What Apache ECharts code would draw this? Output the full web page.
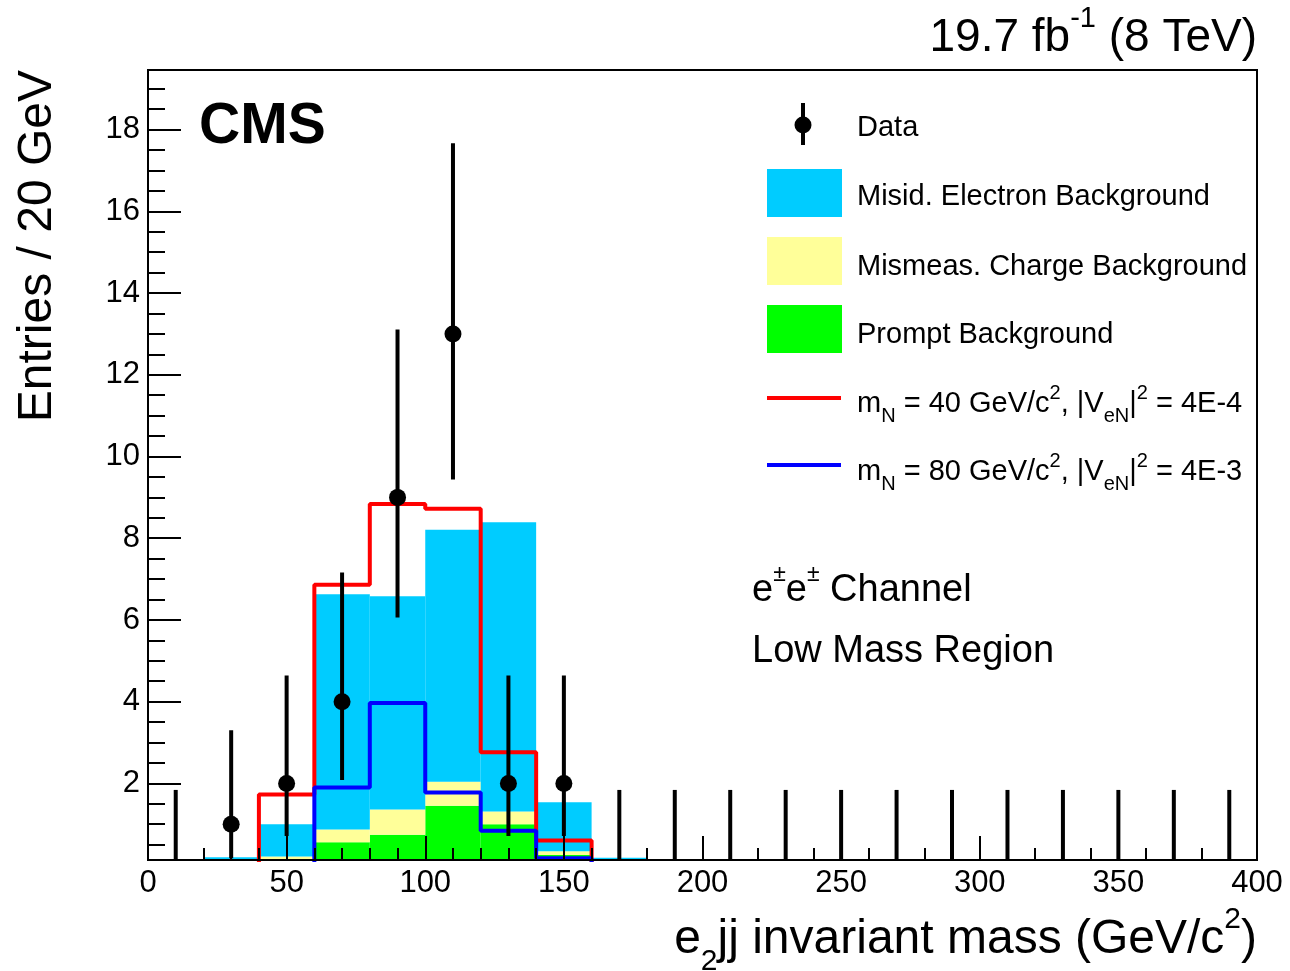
<!DOCTYPE html>
<html>
<head>
<meta charset="utf-8">
<script src="https://cdn.jsdelivr.net/npm/echarts@6.0.0/dist/echarts.min.js"></script>
<style>
  html, body { margin: 0; padding: 0; background: #fff; }
  #main { width: 1290px; height: 971px; }
</style>
</head>
<body>
<div id="main"></div>
<script>
// bins of 20 GeV, 0 - 400
var binEdges = [0, 20, 40, 60, 80, 100, 120, 140, 160, 180, 200, 220, 240, 260, 280, 300, 320, 340, 360, 380];
var binWidth = 20;

// backgrounds (stack increments, bottom to top)
var promptBkg  = [0, 0, 0.10, 0.56, 0.74, 1.45, 1.00, 0.25, 0, 0, 0, 0, 0, 0, 0, 0, 0, 0, 0, 0];
var mismeasBkg = [0, 0, 0.11, 0.31, 0.62, 0.59, 0.31, 0.09, 0, 0, 0, 0, 0, 0, 0, 0, 0, 0, 0, 0];
var misidBkg   = [0, 0.19, 0.79, 5.76, 5.22, 6.17, 7.08, 1.20, 0.18, 0, 0, 0, 0, 0, 0, 0, 0, 0, 0, 0];

// signals
var signal40 = [0, 0, 1.73, 6.86, 8.84, 8.72, 2.76, 0.60, 0, 0, 0, 0, 0, 0, 0, 0, 0, 0, 0, 0];
var signal80 = [0, 0, 0, 1.90, 3.97, 1.78, 0.84, 0.17, 0, 0, 0, 0, 0, 0, 0, 0, 0, 0, 0, 0];

// data with asymmetric errors
var dataCounts = [0, 1, 2, 4, 9, 13, 2, 2, 0, 0, 0, 0, 0, 0, 0, 0, 0, 0, 0, 0];
var dataLow    = [0, 0.17, 0.71, 2.08, 6.06, 9.44, 0.71, 0.71, 0, 0, 0, 0, 0, 0, 0, 0, 0, 0, 0, 0];
var dataHigh   = [1.84, 3.30, 4.64, 7.16, 13.11, 17.67, 4.64, 4.64, 1.84, 1.84, 1.84, 1.84, 1.84, 1.84, 1.84, 1.84, 1.84, 1.84, 1.84, 1.84];

var yMajorTicks = [2, 4, 6, 8, 10, 12, 14, 16, 18];
var yMinorTicks = [0.5, 1, 1.5, 2.5, 3, 3.5, 4.5, 5, 5.5, 6.5, 7, 7.5, 8.5, 9, 9.5, 10.5, 11, 11.5,
                   12.5, 13, 13.5, 14.5, 15, 15.5, 16.5, 17, 17.5, 18.5, 19];

var Y_MIN = 0.125, Y_MAX = 19.46;
var FONT = "'Liberation Sans', Arial, Helvetica, sans-serif";

var chart = echarts.init(document.getElementById('main'));

// stacked rectangles [lo, hi, base, top]
function stackRects(layers, idx) {
  var out = [];
  binEdges.forEach(function (x, i) {
    var base = 0;
    for (var k = 0; k < idx; k++) base += layers[k][i];
    out.push([x, x + binWidth, base, base + layers[idx][i]]);
  });
  return out;
}
var layers = [promptBkg, mismeasBkg, misidBkg];

function rectRender(color) {
  return function (params, api) {
    var b = api.value(2), t = api.value(3);
    if (t <= b) return null;
    var p0 = api.coord([api.value(0), b]);
    var p1 = api.coord([api.value(1), t]);
    return {
      type: 'rect',
      shape: { x: p0[0], y: p1[1], width: p1[0] - p0[0], height: p0[1] - p1[1] },
      style: { fill: color }
    };
  };
}

function stepData(vals) {
  var d = binEdges.map(function (x, i) { return [x, vals[i]]; });
  d.push([400, vals[vals.length - 1]]);
  return d;
}

var dataPoints = binEdges.map(function (x, i) {
  return [x + binWidth / 2, dataCounts[i], dataLow[i], dataHigh[i]];
});

function richText(x, y, text, size, align, ratio) {
  var s = Math.round(size * (ratio || 0.68));
  var el = {
    type: 'text',
    x: x, y: y,
    style: {
      text: text,
      fontSize: size,
      fontFamily: FONT,
      fill: '#000',
      textAlign: align || 'left',
      textVerticalAlign: 'middle',
      rich: {
        b: { fontSize: size, lineHeight: size * 1.55, verticalAlign: 'middle', fontFamily: FONT, fill: '#000' },
        sup: { fontSize: s, lineHeight: s, verticalAlign: 'top', fontFamily: FONT, fill: '#000', padding: [2, 0, 0, 0] },
        sub: { fontSize: s, lineHeight: s, verticalAlign: 'bottom', fontFamily: FONT, fill: '#000' }
      }
    }
  };
  return el;
}

var option = {
  animation: false,
  grid: {
    left: 148, right: 33, top: 70, bottom: 111,
    show: true, borderColor: '#000', borderWidth: 2, backgroundColor: 'transparent'
  },
  xAxis: {
    type: 'value', min: 0, max: 400, interval: 50, z: 10,
    axisLine: { show: true, onZero: false, lineStyle: { color: '#000', width: 2 } },
    axisTick: { inside: true, length: 24, lineStyle: { color: '#000', width: 2 } },
    minorTick: { show: true, splitNumber: 5, length: 12, lineStyle: { color: '#000', width: 2 } },
    axisLabel: { fontSize: 31, fontFamily: FONT, color: '#000', margin: 8 },
    splitLine: { show: false }
  },
  yAxis: [{
    type: 'value', min: Y_MIN, max: Y_MAX, position: 'left', z: 10,
    axisLine: { show: true, lineStyle: { color: '#000', width: 2 } },
    axisTick: { show: true, inside: true, length: 33, customValues: yMajorTicks, lineStyle: { color: '#000', width: 2 } },
    axisLabel: { fontSize: 31, fontFamily: FONT, color: '#000', margin: 8, customValues: yMajorTicks },
    splitLine: { show: false }
  }, {
    type: 'value', min: Y_MIN, max: Y_MAX, position: 'left', z: 10,
    axisLine: { show: false },
    axisTick: { show: true, inside: true, length: 17, customValues: yMinorTicks, lineStyle: { color: '#000', width: 2 } },
    axisLabel: { show: false, customValues: yMinorTicks },
    splitLine: { show: false }
  }],
  series: [{
    name: 'Prompt Background', type: 'custom', clip: true,
    encode: { x: [0, 1], y: [2, 3] },
    data: stackRects(layers, 0), renderItem: rectRender('#00ff00')
  }, {
    name: 'Mismeas. Charge Background', type: 'custom', clip: true,
    encode: { x: [0, 1], y: [2, 3] },
    data: stackRects(layers, 1), renderItem: rectRender('#ffff99')
  }, {
    name: 'Misid. Electron Background', type: 'custom', clip: true,
    encode: { x: [0, 1], y: [2, 3] },
    data: stackRects(layers, 2), renderItem: rectRender('#00ccff')
  }, {
    name: 'mN40', type: 'line', step: 'end', showSymbol: false, clip: true,
    data: stepData(signal40), lineStyle: { color: '#ff0000', width: 4 }, z: 4
  }, {
    name: 'mN80', type: 'line', step: 'end', showSymbol: false, clip: true,
    data: stepData(signal80), lineStyle: { color: '#0000ff', width: 4 }, z: 4
  }, {
    name: 'Data', type: 'custom', clip: true, z: 6,
    encode: { x: 0, y: [1, 2, 3] },
    data: dataPoints,
    renderItem: function (params, api) {
      var x = api.value(0);
      var c = api.coord([x, api.value(1)]);
      var lo = api.coord([x, api.value(2)]);
      var hi = api.coord([x, api.value(3)]);
      var children = [{
        type: 'line',
        shape: { x1: lo[0], y1: lo[1], x2: hi[0], y2: hi[1] },
        style: { stroke: '#000', lineWidth: 4 }
      }];
      if (api.value(1) > 0) {
        children.push({ type: 'circle', shape: { cx: c[0], cy: c[1], r: 8.5 }, style: { fill: '#000' } });
      }
      return { type: 'group', children: children };
    }
  }],
  graphic: [
    // titles
    richText(1257, 38, '{b|19.7 fb}{sup|-1}{b| (8 TeV)}', 46, 'right', 0.62),
    richText(1257, 940, '{b|e}{sub|2}{b|jj invariant mass (GeV/c}{sup|2}{b|)}', 48, 'right', 0.62),
    {
      type: 'text', x: 38, y: 70, rotation: Math.PI / 2,
      style: { text: 'Entries / 20 GeV', fontSize: 48, fontFamily: FONT, fill: '#000',
               textAlign: 'right', textVerticalAlign: 'middle' }
    },
    {
      type: 'text', x: 199, y: 127,
      style: { text: 'CMS', fontSize: 57, fontWeight: 'bold', fontFamily: FONT, fill: '#000',
               textAlign: 'left', textVerticalAlign: 'middle' }
    },
    richText(752, 591, '{b|e}{sup|±}{b|e}{sup|±}{b| Channel}', 38, 'left', 0.6),
    {
      type: 'text', x: 752, y: 652,
      style: { text: 'Low Mass Region', fontSize: 38, fontFamily: FONT, fill: '#000',
               textAlign: 'left', textVerticalAlign: 'middle' }
    },
    // legend
    { type: 'line', shape: { x1: 803, y1: 103, x2: 803, y2: 145 }, style: { stroke: '#000', lineWidth: 4 } },
    { type: 'circle', shape: { cx: 803, cy: 125, r: 8.5 }, style: { fill: '#000' } },
    { type: 'rect', shape: { x: 767, y: 169, width: 75, height: 48 }, style: { fill: '#00ccff' } },
    { type: 'rect', shape: { x: 767, y: 237, width: 75, height: 48 }, style: { fill: '#ffff99' } },
    { type: 'rect', shape: { x: 767, y: 305, width: 75, height: 48 }, style: { fill: '#00ff00' } },
    { type: 'line', shape: { x1: 767, y1: 398, x2: 841, y2: 398 }, style: { stroke: '#ff0000', lineWidth: 4 } },
    { type: 'line', shape: { x1: 767, y1: 465, x2: 841, y2: 465 }, style: { stroke: '#0000ff', lineWidth: 4 } },
    richText(857, 128, '{b|Data}', 29),
    richText(857, 197, '{b|Misid. Electron Background}', 29),
    richText(857, 267, '{b|Mismeas. Charge Background}', 29),
    richText(857, 335, '{b|Prompt Background}', 29),
    richText(857, 404, '{b|m}{sub|N}{b| = 40 GeV/c}{sup|2}{b|, |V}{sub|eN}{b||}{sup|2}{b| = 4E-4}', 29),
    richText(857, 472, '{b|m}{sub|N}{b| = 80 GeV/c}{sup|2}{b|, |V}{sub|eN}{b||}{sup|2}{b| = 4E-3}', 29)
  ]
};

chart.setOption(option);
</script>
</body>
</html>
